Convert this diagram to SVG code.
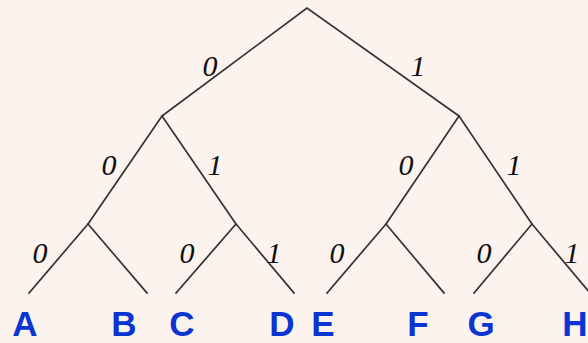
<svg xmlns="http://www.w3.org/2000/svg" width="588" height="343" viewBox="0 0 588 343">
<style>
.e{stroke:#333;stroke-width:1.7;fill:none;stroke-linecap:square}
.b{font-family:"Liberation Serif",serif;font-style:italic;font-size:30px;fill:#111;text-anchor:middle}
.l{font-family:"Liberation Sans",Arial,sans-serif;font-weight:bold;font-size:35px;fill:#0a35d2;text-anchor:middle}
</style>
<rect width="588" height="343" fill="#fdf3ee"/>
<g id="edges">
<path class="e" d="M162,116 L307,8 L459,116"/>
<path class="e" d="M88,224 L162,116 L236,224"/>
<path class="e" d="M386,224 L459,116 L532,224"/>
<path class="e" d="M29,293 L88,224 L147,293"/>
<path class="e" d="M176,293 L236,224 L294,293"/>
<path class="e" d="M327,293 L386,224 L444,293"/>
<path class="e" d="M474,293 L532,224 L590,293"/>
</g>
<g id="bits">
<text class="b" x="210" y="76">0</text>
<text class="b" x="418" y="76">1</text>
<text class="b" x="109" y="175">0</text>
<text class="b" x="215" y="175">1</text>
<text class="b" x="406" y="175">0</text>
<text class="b" x="514" y="175">1</text>
<text class="b" x="40" y="263">0</text>
<text class="b" x="187" y="263">0</text>
<text class="b" x="274" y="263">1</text>
<text class="b" x="337" y="263">0</text>
<text class="b" x="484" y="263">0</text>
<text class="b" x="572" y="263">1</text>
</g>
<g id="leaf-A"><text class="l" x="25" y="335.5">A</text></g>
<g id="leaf-B"><text class="l" x="124" y="335.5">B</text></g>
<g id="leaf-C"><text class="l" x="182" y="335.5">C</text></g>
<g id="leaf-D"><text class="l" x="282" y="335.5">D</text></g>
<g id="leaf-E"><text class="l" x="323" y="335.5">E</text></g>
<g id="leaf-F"><text class="l" x="418" y="335.5">F</text></g>
<g id="leaf-G"><text class="l" x="481" y="335.5">G</text></g>
<g id="leaf-H"><text class="l" x="575" y="335.5">H</text></g>
</svg>
